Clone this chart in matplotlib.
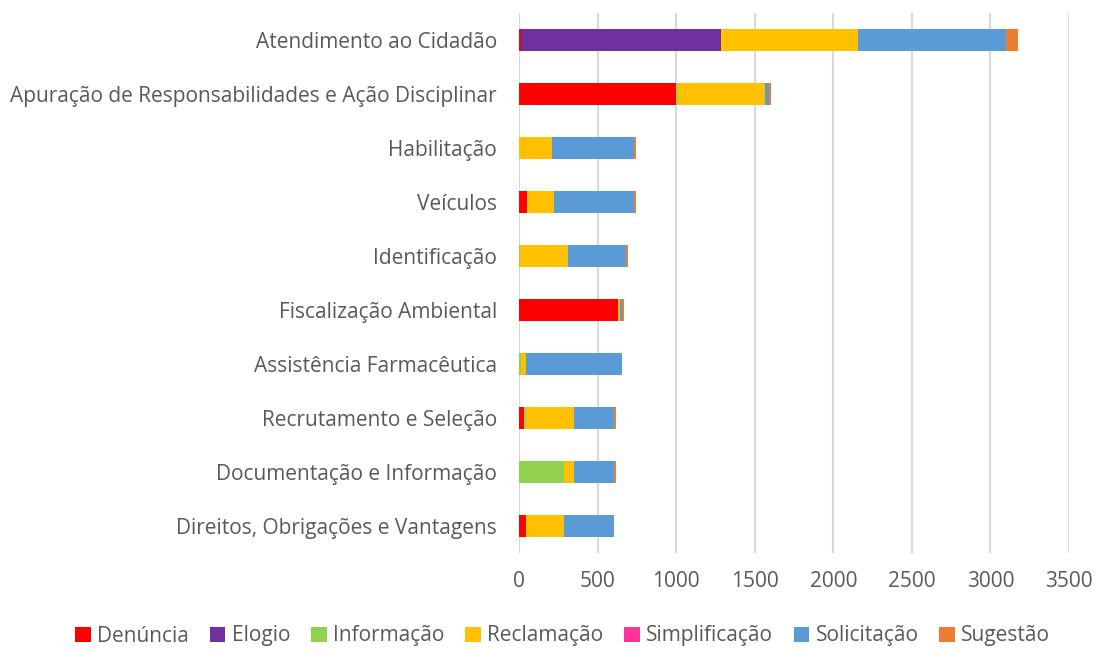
import matplotlib.pyplot as plt
import numpy as np

# categories, top to bottom as in the chart
categories = [
    "Atendimento ao Cidadão",
    "Apuração de Responsabilidades e Ação Disciplinar",
    "Habilitação",
    "Veículos",
    "Identificação",
    "Fiscalização Ambiental",
    "Assistência Farmacêutica",
    "Recrutamento e Seleção",
    "Documentação e Informação",
    "Direitos, Obrigações e Vantagens",
]

denuncia      = [14, 1000, 0, 53, 0, 631, 0, 32, 0, 45]
elogio        = [1270, 0, 0, 0, 0, 0, 0, 0, 0, 0]
informacao    = [0, 10, 0, 0, 5, 0, 12, 13, 287, 0]
reclamacao    = [872, 555, 208, 167, 305, 12, 33, 305, 63, 242]
simplificacao = [0, 0, 0, 0, 0, 0, 0, 0, 0, 0]
solicitacao   = [940, 23, 524, 512, 370, 13, 611, 255, 255, 318]
sugestao      = [80, 14, 14, 14, 12, 13, 0, 13, 13, 0]

series_names = ["Denúncia", "Elogio", "Informação", "Reclamação",
                "Simplificação", "Solicitação", "Sugestão"]
series_vals = [denuncia, elogio, informacao, reclamacao,
               simplificacao, solicitacao, sugestao]
colors = ["#FF0000", "#7030A0", "#92D050", "#FFC000",
          "#FF3399", "#5B9BD5", "#ED7D31"]

plt.rcParams['font.family'] = ['Open Sans', 'DejaVu Sans']
text_color = "#595959"

fig = plt.figure(figsize=(10.99, 6.51), dpi=100)
ax = fig.add_axes([519 / 1099, 1 - 553 / 651, 550 / 1099, 540 / 651])

y = np.arange(len(categories))
left = np.zeros(len(categories))
for name, vals, c in zip(series_names, series_vals, colors):
    vals = np.array(vals, dtype=float)
    ax.barh(y, vals, left=left, height=0.4, color=c, label=name, zorder=3)
    left += vals

ax.set_ylim(len(categories) - 0.5, -0.5)
ax.set_xlim(0, 3500)
ax.set_xticks(range(0, 3501, 500))
ax.set_yticks(y)
ax.set_yticklabels(categories)
ax.xaxis.grid(True, color="#D9D9D9", linewidth=1.5, zorder=0)
for s in ax.spines.values():
    s.set_visible(False)
ax.tick_params(axis="both", length=0, colors=text_color, labelsize=15)
ax.tick_params(axis="x", pad=13)
ax.tick_params(axis="y", pad=16)

handles, labels = ax.get_legend_handles_labels()
leg = fig.legend(handles, labels, loc="center", bbox_to_anchor=(0.512, 1 - 636 / 651),
                 ncol=7, frameon=False, fontsize=15, handlelength=0.75, handleheight=0.75,
                 handletextpad=0.3, columnspacing=1.0)
for t in leg.get_texts():
    t.set_color(text_color)

fig.savefig("out.png", dpi=100)
